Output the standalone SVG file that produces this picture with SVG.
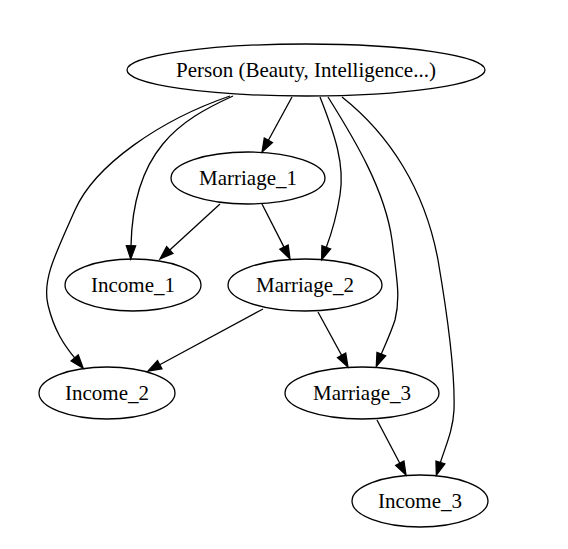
<svg xmlns="http://www.w3.org/2000/svg" width="568" height="549" viewBox="0 0 568 549">
<style>
.n ellipse{fill:none;stroke:#000;stroke-width:1.3}
.n text{font-family:"Liberation Serif","Times New Roman",serif;font-size:21px;text-anchor:middle;fill:#000}
.e path{fill:none;stroke:#000;stroke-width:1.3}
</style>
<defs>
<marker id="ah" markerUnits="userSpaceOnUse" markerWidth="16" markerHeight="12" refX="0" refY="5" orient="auto" viewBox="0 0 16 10" overflow="visible">
<polygon points="0,0.33 13.3,5 0,9.67" fill="#000" stroke="#000" stroke-width="1.3"/>
</marker>
</defs>
<rect width="568" height="549" fill="#fff"/>
<g id="edges" class="e">
<path marker-end="url(#ah)" d="M292,97 L268.4,140.3"/>
<path marker-end="url(#ah)" d="M233,96 C180,120 133,150 131,245.7"/>
<path marker-end="url(#ah)" d="M230,96 C160,120 95,165 75,210 C55,255 42,280 48,305 C54,330 64,345 74.7,357.9"/>
<path marker-end="url(#ah)" d="M220,204 L169.8,250"/>
<path marker-end="url(#ah)" d="M262,204 L284,247.1"/>
<path marker-end="url(#ah)" d="M320,97 C335,135 345,165 340,195 C336,220 332,232 326.3,247.3"/>
<path marker-end="url(#ah)" d="M328,97 C355,140 385,190 392,240 C398,285 400,300 395,320 C390,335 385,345 381.3,354.1"/>
<path marker-end="url(#ah)" d="M342,97 C390,135 425,190 438,260 C450,330 455,380 454,410 C453,430 446,445 440.4,462.5"/>
<path marker-end="url(#ah)" d="M263,309 L159.7,364.7"/>
<path marker-end="url(#ah)" d="M318,312 L341.6,355.3"/>
<path marker-end="url(#ah)" d="M377,420 L399.8,463.2"/>
</g>
<g id="person" class="n"><ellipse cx="306" cy="70" rx="179" ry="26"/><text x="306" y="77">Person (Beauty, Intelligence...)</text></g>
<g id="marriage1" class="n"><ellipse cx="248" cy="178" rx="77" ry="26"/><text x="248" y="185">Marriage_1</text></g>
<g id="income1" class="n"><ellipse cx="133" cy="285" rx="68" ry="26"/><text x="133" y="292">Income_1</text></g>
<g id="marriage2" class="n"><ellipse cx="305" cy="285" rx="77" ry="26"/><text x="305" y="292">Marriage_2</text></g>
<g id="income2" class="n"><ellipse cx="107" cy="393" rx="68" ry="26"/><text x="107" y="400">Income_2</text></g>
<g id="marriage3" class="n"><ellipse cx="362" cy="393" rx="77" ry="26"/><text x="362" y="400">Marriage_3</text></g>
<g id="income3" class="n"><ellipse cx="420" cy="501" rx="68" ry="26"/><text x="420" y="508">Income_3</text></g>
</svg>
